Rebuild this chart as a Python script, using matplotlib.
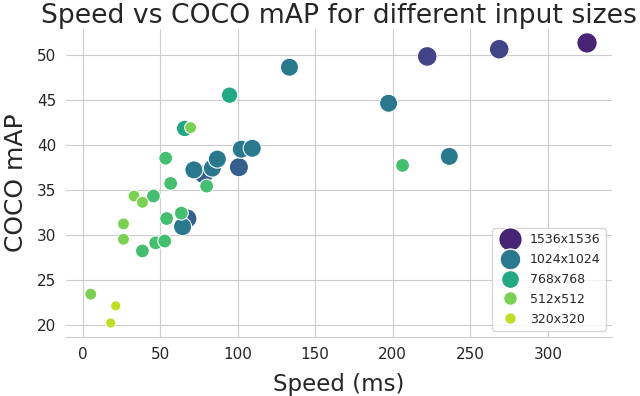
#!/usr/bin/env python3

import matplotlib
matplotlib.use("Agg")
import matplotlib.pyplot as plt
from matplotlib.lines import Line2D
import seaborn as sns

# Input size for each point (largest first so small points sit on top)
input_size = [1536, 1280, 1280, 1152, 1152, 1152,
              1024, 1024, 1024, 1024, 1024, 1024, 1024, 1024, 1024,
              768, 768,
              640, 640, 640, 640, 640, 640, 640, 640, 640, 640,
              512, 512, 512, 512, 512, 512,
              320, 320]
speed_ms = [325.2, 268.6, 222.2, 78.2, 100.8, 67.6,
            133.4, 197.3, 236.4, 102.3, 109.4, 71.8, 83.7, 86.9, 64.5,
            94.8, 65.8,
            206.3, 53.6, 56.8, 80.0, 45.7, 38.6, 54.2, 63.7, 47.2, 53.0,
            69.7, 33.2, 38.6, 26.4, 26.4, 5.3,
            21.4, 18.2]
coco_map = [51.3, 50.6, 49.8, 36.7, 37.5, 31.8,
            48.6, 44.6, 38.7, 39.5, 39.6, 37.2, 37.4, 38.4, 30.9,
            45.5, 41.8,
            37.7, 38.5, 35.7, 35.4, 34.3, 28.2, 31.8, 32.4, 29.1, 29.3,
            41.9, 34.3, 33.6, 31.2, 29.5, 23.4,
            22.1, 20.2]

# position of each size on the viridis map and its marker area
levels = [1536, 1280, 1152, 1024, 768, 640, 512, 320]
cmap_pos = [0.1, 0.2, 0.3, 0.4, 0.6, 0.7, 0.8, 0.9]
marker_area = [215, 200, 190, 170, 140, 100, 75, 55]
legend_sizes = [1536, 1024, 768, 512, 320]
legend_ms = [17.0, 15.0, 13.0, 10.0, 8.5]


def main():
    sns.set_style("whitegrid")
    plt.rcParams['font.family'] = ['DejaVu Sans']

    cmap = plt.get_cmap("viridis")
    color_of = {lv: cmap(p) for lv, p in zip(levels, cmap_pos)}
    area_of = dict(zip(levels, marker_area))

    fig = plt.figure(figsize=(6.4, 3.96), dpi=100)
    ax = fig.add_axes([0.103, 0.149, 0.853, 0.778])

    ax.scatter(speed_ms, coco_map,
               c=[color_of[s] for s in input_size],
               s=[area_of[s] for s in input_size],
               edgecolors="white", linewidths=0.8, zorder=3)

    ax.set_title("Speed vs COCO mAP for different input sizes", fontsize=19.2,
                 pad=4)
    ax.set_xlabel("Speed (ms)", fontsize=16.5, labelpad=8)
    ax.set_ylabel("COCO mAP", fontsize=18, labelpad=6)
    ax.tick_params(labelsize=11)
    ax.set_xticks([0, 50, 100, 150, 200, 250, 300])
    ax.set_yticks([20, 25, 30, 35, 40, 45, 50])
    sns.despine(ax=ax, left=True)

    handles = [Line2D([], [], marker="o", linestyle="none",
                      markerfacecolor=color_of[s], markeredgecolor="white",
                      markersize=m)
               for s, m in zip(legend_sizes, legend_ms)]
    labels = ["%dx%d" % (s, s) for s in legend_sizes]
    ax.legend(handles, labels, loc="lower right", fontsize=9,
              labelspacing=0.55, handletextpad=0.6, borderpad=0.4)

    fig.savefig("out.png", dpi=100)


if __name__ == "__main__":
    main()
